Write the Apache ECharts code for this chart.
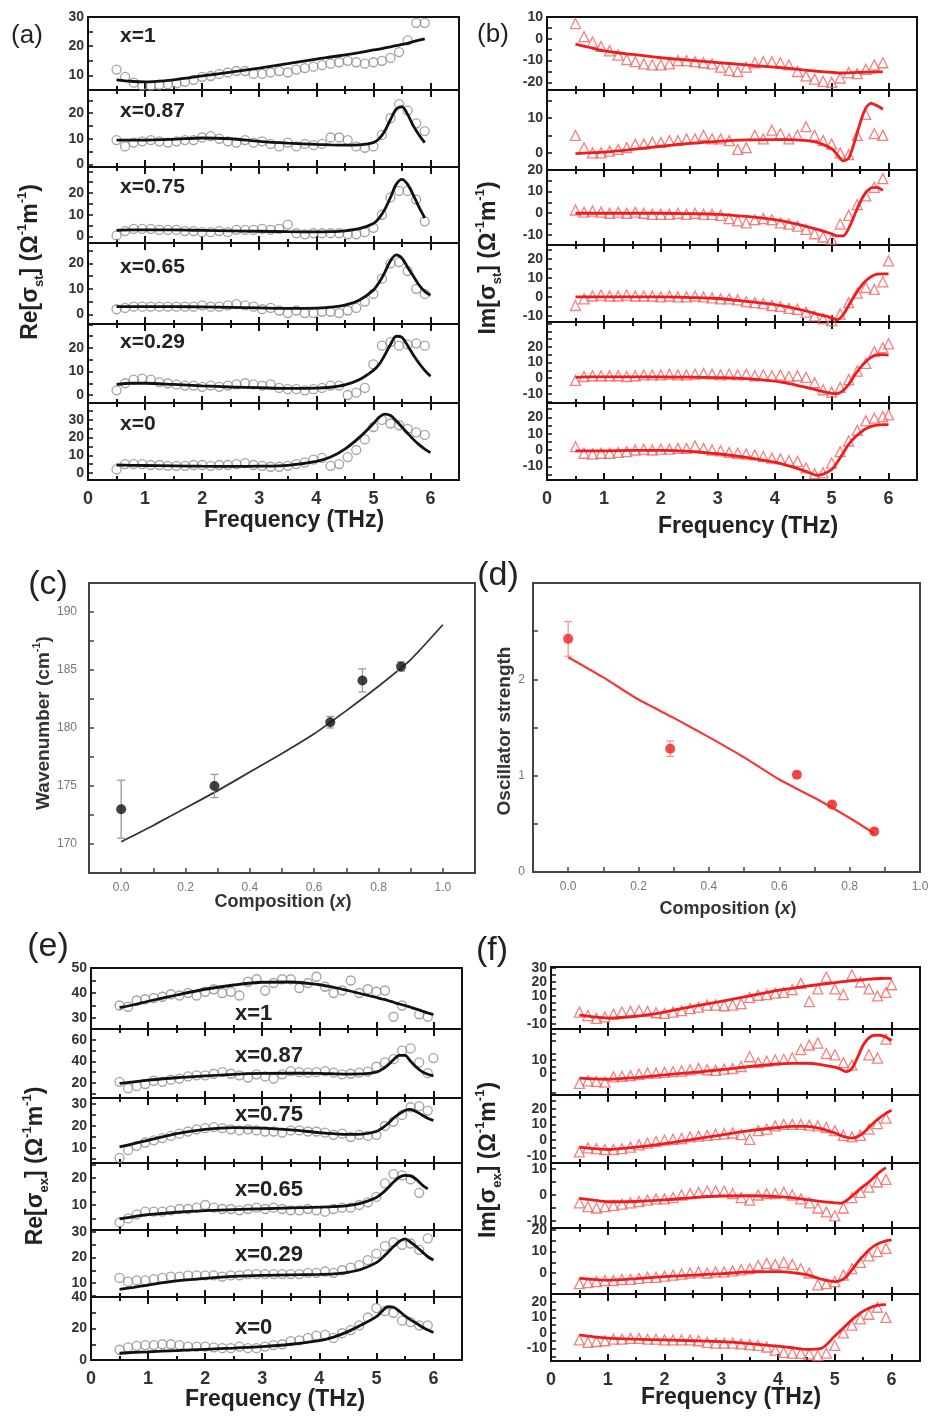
<!DOCTYPE html>
<html><head><meta charset="utf-8">
<script src="https://cdn.jsdelivr.net/npm/echarts@6/dist/echarts.min.js"></script>
<style>html,body{margin:0;padding:0;background:#fff}#c{width:934px;height:1418px}</style>
</head><body><div id="c"></div>
<script>
// ---------- shared frequency grids (THz) ----------
const freqMarkers = [0.5,0.65,0.8,0.95,1.1,1.25,1.4,1.55,1.7,1.85,2.0,2.15,2.3,2.45,2.6,2.75,2.9,3.05,3.2,3.35,3.5,3.65,3.8,3.95,4.1,4.25,4.4,4.55,4.7,4.85,5.0,5.15,5.3,5.45,5.6,5.75,5.9,6.0];
const freqFit = [0.5,0.75,1,1.5,2,2.5,3,3.5,4,4.25,4.5,4.75,5,5.1,5.2,5.3,5.4,5.5,5.6,5.7,5.8,5.9,6.0];
const freqTickLabels = [0,1,2,3,4,5,6];
const compLabels = ['x=1','x=0.87','x=0.75','x=0.65','x=0.29','x=0'];

// ---------- (a) Re[sigma_st] ----------
const aM1 = [12,9.5,7.5,6.5,6.5,6.8,7,7.3,7.8,8.5,9.5,9.8,10.5,11,11.5,11.5,10.5,10.5,11,11.5,11,12,12.5,13,13.5,14,14.5,15,14.5,14,14.5,15,16,18,22,28,28,null];
const aF1 = [8.5,8.0,7.8,8.5,9.8,11.1,12.5,14.0,15.6,16.3,17.0,17.8,18.7,19.0,19.4,19.8,20.2,20.6,21.0,21.6,22.1,22.5,null];
const aM2 = [9.5,7,8.5,9,9.5,9,8.5,9,9.5,9.5,10.5,11,10,9,8.5,9.5,8.5,9,8,7,8.5,7,8,7.5,8,10.5,10.5,9.5,7,6.5,7,11.5,18,23.5,21,16,13,null];
const aF2 = [9.5,9.5,9.5,9.8,10.3,10.0,9.0,8.3,7.8,7.6,7.5,7.6,8.5,10,13,17.5,21.5,22.5,19.5,15,11.5,8.5,null];
const aM3 = [0.5,2.5,3.5,3.5,3.5,3,3,3,2.5,2.5,2,2,2.5,2,3,3,3,3.5,3,3.5,5.5,1.5,1,1.5,1.5,1.5,1.5,1,1,2,4,10,18,21,21,17,7,null];
const aF3 = [2.8,3.0,3.0,3.0,2.8,2.6,2.4,2.2,2.1,2.2,2.6,3.6,6,8.5,12.5,18,24,26.3,24,19,13.5,8.5,null];
const aM4 = [2,2.5,3,3,3,3,3,3,3,3,3.5,3,3,3.5,4,3.5,3,2,2.5,1.5,0.5,1.5,0.5,0.5,1,1,0.5,1.5,2.5,5,8,14,20,20.5,17,10,8,null];
const aF4 = [3,3,3,3,2.9,2.7,2.5,2.3,2.4,2.8,3.6,5.5,9.5,12.5,16.5,21,23.3,22,18.5,15,11.5,9,7.5];
const aM5 = [2,5,6.5,7,6.5,5.5,5,4.5,4,4,3.5,4,3.5,4,4.5,5,4.5,4,4.5,3,2.5,2.5,2,2.5,3,4,4,0,1,3,13,21,22.5,21,21.5,22,21,null];
const aF5 = [4.5,5,5,4.5,3.9,3.4,3.1,2.8,2.9,3.3,4.3,6.5,10.5,13,17,21.5,25,24.5,21,17,13.5,10.5,8];
const aM6 = [2,5,5,5,4.5,4.5,4,4,4,4.5,4.5,4,4.5,4.5,5,5.5,4.5,4,3.5,3.5,4,5,6,7.5,8.5,4,5,9,13,19,26,30,28,27,25,23,21.5,null];
const aF6 = [4.5,4.3,4.2,4,3.8,3.7,3.8,4.3,6.5,9,13.5,20,28,31.5,33.3,32.5,29.5,26,22.5,19,16,13.5,11.5];
const aYRange = [[5,30],[-1,29],[-3,32],[-3.8,28],[-3.4,30.2],[-4,39.6]];
const aYLabels = [[10,20,30],[0,10,20],[0,10,20],[0,10,20],[0,10,20],[0,10,20,30]];
const aYTicks = [[5,10,15,20,25,30],[0,5,10,15,20,25],[0,5,10,15,20,25,30],[0,5,10,15,20,25],[0,5,10,15,20,25,30],[0,5,10,15,20,25,30,35]];

// ---------- (b) Im[sigma_st] ----------
const bM1 = [7,1,-1.5,-3.5,-5.5,-7.5,-9.5,-10.5,-11.5,-12,-12,-11.5,-10,-10,-10.5,-11,-11.5,-13,-14.5,-15,-13,-11,-10.5,-10.5,-11,-12,-15,-17,-18.5,-19.5,-20,-18,-15.5,-16,-14,-12,-11,null];
const bF1 = [-2.5,-4,-5.5,-7.2,-8.7,-9.8,-10.9,-12,-13,-13.6,-14.3,-14.9,-15.4,-15.6,-15.7,-15.6,-15.5,-15.4,-15.3,-15.3,-15.2,-15.2,null];
const bM2 = [5,1.5,0,0,0.5,1,1.5,2.5,2.5,3,3,3.5,3.5,4,4,5,4,4,3.5,1,1.5,5,4,6.5,5.5,4,5,7.5,5,3.5,2.5,0,-0.5,5,11,5.5,5,null];
const bF2 = [-0.2,0,0.2,1,1.9,2.7,3.3,3.7,3.8,3.8,3.6,3,1.2,-0.5,-2.3,-1.5,3,8.5,12.8,14.2,13.5,12.5,null];
const bM3 = [1.5,0.5,1,0.5,0,0.5,0,0.5,0,-0.5,-0.5,-0.5,0,-0.5,0,-0.5,-0.5,-1,-2.5,-3.5,-4.5,-3,-2.5,-3,-4.5,-5,-6,-7.5,-9.5,-11,-12,-5,-1,4,8,12,16,null];
const bF3 = [0,0,0,0,0,-0.2,-0.5,-1.5,-3,-4.2,-5.7,-7.5,-9.5,-10.5,-10.5,-7,-1,5,9.5,11.8,12,10.5,null];
const bM4 = [-4.5,-1,0.5,1,0.5,0.5,1,0.5,0.5,0.5,0,0.5,0,0,0.5,0,-0.5,-1,-1,-1.5,-2.5,-3,-3.5,-4.5,-5,-6,-6.5,-8,-10,-11.5,-12.5,-9,-3,2,5,4,8,19];
const bF4 = [0,0,0,0,0,-0.3,-0.8,-2.3,-4,-5.3,-7,-9,-11,-12,-9.5,-4.5,0.5,5,8.5,10.8,12,12.2,12.2];
const bM5 = [-1.5,1,1.5,1.5,1.5,1.5,1,1.5,2,2,2,2.5,2,2,2.5,3,2.5,2,2.5,2,2.5,1.5,2,1.5,2,1,1.5,0.5,-3,-7.5,-9,-6,-1,4.5,9.5,17,19.5,22];
const bF5 = [0.5,0.8,0.8,0.8,0.8,0.6,0.3,-0.3,-2,-3.5,-5.5,-7.8,-9.8,-10,-8,-4,1.5,6.5,10.5,13.5,15,15,14.8];
const bM6 = [2,-2,-2.5,-2,-2,-1.5,-1,0,0.5,0,0.5,0.5,1,1,2.5,1,0,-0.5,-1.5,-2,-2.5,-3,-4,-5,-5.5,-6.5,-7,-11,-14.5,-14,-8,-1,5.5,12,18,19.5,20.5,21.5];
const bF6 = [-0.5,-0.5,-0.5,-0.3,-0.3,-0.8,-2.3,-4.5,-7.5,-9.8,-12.5,-15.5,-12,-7.5,-2,3.5,7.5,10.5,13,14.5,15.3,15.5,15.5];
const bYRange = [[-23.5,10],[-4.9,18],[-14.7,20],[-13.2,27.4],[-16,36],[-18.4,28.8]];
const bYLabels = [[-20,-10,0,10],[0,10],[-10,0,10,20],[-10,0,10,20],[-10,0,10,20],[-10,0,10,20]];
const bYTicks = [[-20,-15,-10,-5,0,5,10],[0,5,10,15],[-10,-5,0,5,10,15,20],[-10,-5,0,5,10,15,20,25],[-15,-10,-5,0,5,10,15,20,25,30,35],[-15,-10,-5,0,5,10,15,20,25]];

// ---------- (c) wavenumber vs composition ----------
const cX = [0,0.29,0.65,0.75,0.87];
const cY = [173.0,175.0,180.5,184.1,185.3];
const cErr = [2.5,1.0,0.5,1.0,0.4];
const cFitX = [0,0.1,0.2,0.3,0.4,0.5,0.6,0.7,0.8,0.9,1.0];
const cFitY = [170.2,171.6,173.1,174.6,176.2,177.8,179.5,181.5,183.6,185.9,188.9];
const cYLabels = [170,175,180,185,190];
const cYTicks = [170,172.5,175,177.5,180,182.5,185,187.5,190];
const compXLabels = [0,0.2,0.4,0.6,0.8,1.0];
const compXTicks = [0,0.1,0.2,0.3,0.4,0.5,0.6,0.7,0.8,0.9,1.0];

// ---------- (d) oscillator strength ----------
const dX = [0,0.29,0.65,0.75,0.87];
const dY = [2.42,1.28,1.01,0.70,0.42];
const dErr = [0.18,0.08,0.03,0.03,0.03];
const dFitX = [0,0.1,0.2,0.3,0.4,0.5,0.6,0.7,0.8,0.87];
const dFitY = [2.23,2.02,1.79,1.60,1.40,1.19,0.96,0.77,0.56,0.40];
const dYLabels = [0,1,2];
const dYTicks = [0,0.5,1,1.5,2,2.5];

// ---------- (e) Re[sigma_ex] ----------
const eM1 = [35,34.5,37,37.5,38,38.5,39.5,39,40,39,40.5,41.5,40,40.5,39,44.5,45.5,41,44,45.5,45.5,42,44,46.5,42.5,40,41,45,40,41.5,40.5,41,30.5,35,null,31.5,30.5,null];
const eF1 = [34.2,35.3,36.7,39.2,41.5,43.2,44.3,44.4,43.3,42.3,41,39.6,38.2,37.6,37,36.3,35.6,35,34.3,33.6,32.8,32,31.4];
const eM2 = [21,15,17,19,22,21,23,24,26,27,27,28.5,30,28.5,27,25,28,26,24,28,31,30,29.5,30,31,29.5,28,28.5,29.5,30.5,35,39,42,50,52,39,29,43];
const eF2 = [19.5,21,22.5,24.8,26.5,28,28.8,29,28.8,28.5,28.2,28.3,30,32.5,36.5,41.5,45.5,45.5,40,34.5,30.5,28,26.5];
const eM3 = [5.5,9,11,12.5,13.5,14.5,15.5,16.5,17.5,18.5,19,19.5,19,18.5,18,18.5,18,17.5,17.5,17,18,18,17.5,17.5,17,16,16.5,15,16,15.5,16,20,22,25,28.5,29,27,null];
const eF3 = [10.5,12,13.5,16.5,18.5,19.3,19,18.2,17,16.5,16.2,16.3,17.5,19,21,23.5,25.5,27,27.5,26.5,25,23.5,22.5];
const eM4 = [3.5,5,6.5,7.5,7.5,7.5,8,8.5,8.5,9,10,9,8.5,8.5,8,8.5,9,8.5,9,8.5,8,8,8.5,8,7.5,8.5,9,9,10,11,13,18,21.5,21,19.5,14.5,null,null];
const eF4 = [4.8,5.7,6.4,7.3,7.9,8.3,8.6,8.9,9.2,9.4,9.8,10.8,12.8,14.3,16.3,18.5,20.3,21,20.8,19.5,17.5,16,null];
const eM5 = [12,10.5,11,11,11.5,12,12.5,12.5,13,13,13,13,12.5,13,13,13.5,13.5,13.5,13.5,13.5,13.5,13.5,14,14,14.5,14,15,16,17,19,21.5,24.5,26,25,25.5,23,27.5,null];
const eF5 = [7.5,8.3,9.2,10.8,11.8,12.6,13,13.2,13.4,13.6,14.2,15.5,18,19.8,22,24.3,26.3,27.3,26,24.3,22.3,20.3,19];
const eM6 = [6.5,8,9,9.5,9.5,10,10,9.5,8.5,8.5,8.5,8,7.5,7.5,8.5,7.5,7.5,8.5,9.5,10,12,12.5,14,15.5,16,14,17,19,22,27,33,31,30,25,24,22,22,null];
const eF6 = [4.3,4.8,5.2,6,6.8,7.6,8.5,10,12.3,14.5,18,22.5,27.5,31,33.8,33.5,31,28,25.5,23.3,21,19,17.5];
const eYRange = [[25.6,50],[6,70],[3.2,32.7],[0.7,25.6],[4.5,30.8],[0,40]];
const eYLabels = [[30,40,50],[20,40,60],[10,20,30],[10,20],[10,20,30],[0,20,40]];
const eYTicks = [[30,35,40,45,50],[10,20,30,40,50,60,70],[5,10,15,20,25,30],[5,10,15,20,25],[5,10,15,20,25,30],[0,10,20,30,40]];

// ---------- (f) Im[sigma_ex] ----------
const fM1 = [-1.5,-4,-6,-5,-3,-1.5,-1,-0.5,-1,-2,-2.5,-1.5,-0.5,1,2,3.5,3.5,3,3.5,4.5,9,10.5,11,12,12.5,14.5,19,6,15,23.5,15,11,25,20,15,10,12.5,18];
const fF1 = [-3.5,-5,-5.8,-4.5,-1.5,2.5,6.2,10,14,15.5,17,18.3,19.5,20,20.5,21,21.3,21.6,22,22.3,22.5,22.6,22.6];
const fM2 = [-8,-6,-6.5,-7,-3,-2.5,-2,-1,0,0,0.5,1,1.5,2.5,3.5,2.5,2,3,3.5,5,12.5,8,9,10,10.5,11.5,18,21.5,23,15,14,8,6,null,14,11.5,26,null];
const fF2 = [-4,-4.5,-4.8,-3.5,-1.5,0.5,2.5,5,7,7.4,7.5,6.5,4.5,3,1,3.5,12,21.5,27,29,29,27.5,25];
const fM3 = [-7.5,-5,-5.5,-6,-6,-5.5,-4.5,-3,-2,-1,0,0.5,1,2,2.5,3,3.5,4,4.5,3.5,0.5,6,7,9,10,10,10,9.5,9,8,6,3,2,3,7,10.5,14,null];
const fF3 = [-4.5,-5.5,-6,-4.5,-2.3,0.5,3.2,6,8,8.7,8.7,7.3,4.5,3,1.8,1.3,2.2,4.5,8,11.5,14.5,17,19];
const fM4 = [-3,-4.5,-5,-4.5,-4,-3.5,-3,-2.5,-2,-1.5,-1.5,-1,0,0.5,1,1.5,1.5,1.5,0.5,-1,-2,0,0.5,0.5,1,0,-1.5,-3,-5,-6.5,-8,-5,-1,1,3,5,6,null];
const fF4 = [-1.3,-2,-2.6,-2.5,-1.9,-1,-0.4,-0.3,-0.6,-1,-1.8,-2.5,-3,-3.2,-2.2,-0.5,1.5,3.3,5,7,9,10.5,null];
const fM5 = [-5,-4.5,-4,-3.5,-3.5,-3,-3,-2.5,-2,-2,-1.5,-1,-0.5,0,0.5,0,0.5,0.5,1,1.5,2,3.5,4.5,4,5,4,2,0,-5.5,-5,-4,-1,2,5,8,10,11.5,null];
const fF5 = [-2.5,-3,-3.3,-2.6,-1.7,-1,-0.3,0.5,0.6,0.2,-0.8,-2.8,-4,-3.5,-1.8,1.5,5,8,10.7,12.8,14.1,15,15.5];
const fM6 = [-4.5,-6,-5.5,-5,-4,-4,-3.5,-3.5,-4,-4,-4.5,-4.5,-4.5,-4.5,-5,-6,-6.5,-6.5,-6.5,-7,-7.5,-8,-9,-11,-12.5,-13,-13,-13.5,-14.5,-13,-8,0,5,9,12,16.5,10,null];
const fF6 = [-1.3,-2.5,-3.3,-4,-4.5,-5,-5.6,-6.8,-8.5,-9.5,-10.5,-10,-2,1.5,5,8.5,11.5,14,15.9,17.2,18,18.2,null];
const fYRange = [[-13.6,30.7],[-16.9,33.8],[-14.6,28.7],[-12.7,12.3],[-9.8,21],[-18,25]];
const fYLabels = [[-10,0,10,20,30],[-10,0,10,20],[-10,0,10,20],[-10,0,10],[0,10,20],[-10,0,10,20]];
const fYTicks = [[-10,-5,0,5,10,15,20,25,30],[-15,-10,-5,0,5,10,15,20,25,30],[-10,-5,0,5,10,15,20,25],[-10,-5,0,5,10],[-5,0,5,10,15,20],[-15,-10,-5,0,5,10,15,20]];

// ---------- build ----------
const FONT = '"Liberation Sans", Arial, sans-serif';
const BLACK = '#111';
const RED = '#ee1c1c';
const grid = [], xAxis = [], yAxis = [], series = [], graphic = [];

function freqAxis(gi, pos, showLabel) {
  return {
    type: 'value', gridIndex: gi, position: pos, min: 0, max: 6.5, interval: 1,
    axisLine: { show: false, onZero: false }, splitLine: { show: false },
    axisTick: { show: true, inside: true, length: 7, lineStyle: { color: BLACK, width: 2 } },
    minorTick: { show: true, splitNumber: 2, length: 4, lineStyle: { color: BLACK, width: 2 } },
    axisLabel: { show: showLabel, margin: 10, fontSize: 18, fontWeight: 'bold', color: '#333', fontFamily: FONT,
      formatter: v => (freqTickLabels.indexOf(v) >= 0 ? String(v) : '') }
  };
}

function stack(p) {
  for (let k = 0; k < 6; k++) {
    const gi = grid.length;
    grid.push({ left: p.left, top: p.bounds[k], width: p.width, height: p.bounds[k + 1] - p.bounds[k],
      show: true, borderColor: BLACK, borderWidth: 2, backgroundColor: 'rgba(0,0,0,0)' });
    const xi = xAxis.length;
    xAxis.push(freqAxis(gi, 'bottom', k === 5));
    if (k > 0) xAxis.push(freqAxis(gi, 'top', false));
    const yi = yAxis.length;
    yAxis.push({ type: 'value', gridIndex: gi, position: 'left', min: p.yr[k][0], max: p.yr[k][1],
      axisLine: { show: false, onZero: false }, splitLine: { show: false },
      axisTick: { show: true, inside: true, length: 5, customValues: p.yt[k], lineStyle: { color: BLACK, width: 1.5 } },
      axisLabel: { show: true, customValues: p.yl[k], margin: 4, fontSize: 14, fontWeight: 'bold', color: '#333', fontFamily: FONT } });
    series.push({ type: 'scatter', xAxisIndex: xi, yAxisIndex: yi, symbol: p.symbol, symbolSize: p.size,
      itemStyle: { color: 'rgba(0,0,0,0)', borderColor: p.markColor, borderWidth: 1.3 },
      data: freqMarkers.map((f, i) => [f, p.marks[k][i]]).filter(d => d[1] != null), z: 2, silent: true });
    series.push({ type: 'line', xAxisIndex: xi, yAxisIndex: yi, symbol: 'none', smooth: 0.3,
      lineStyle: { color: p.lineColor, width: 2.8 },
      data: freqFit.map((f, i) => [f, p.fits[k][i]]).filter(d => d[1] != null), z: 3, silent: true });
  }
}

stack({ left: 88, width: 371, bounds: [17,90,167,243,324,403,480], yr: aYRange, yl: aYLabels, yt: aYTicks,
  marks: [aM1,aM2,aM3,aM4,aM5,aM6], fits: [aF1,aF2,aF3,aF4,aF5,aF6], symbol: 'circle', size: 9, markColor: '#8c8c8c', lineColor: BLACK });
stack({ left: 547, width: 370, bounds: [17,90,170,245,322,403,480], yr: bYRange, yl: bYLabels, yt: bYTicks,
  marks: [bM1,bM2,bM3,bM4,bM5,bM6], fits: [bF1,bF2,bF3,bF4,bF5,bF6], symbol: 'triangle', size: 10, markColor: '#f26060', lineColor: RED });
stack({ left: 91, width: 371, bounds: [968,1029,1098,1163,1230,1297,1360], yr: eYRange, yl: eYLabels, yt: eYTicks,
  marks: [eM1,eM2,eM3,eM4,eM5,eM6], fits: [eF1,eF2,eF3,eF4,eF5,eF6], symbol: 'circle', size: 9, markColor: '#8c8c8c', lineColor: BLACK });
stack({ left: 551, width: 369, bounds: [967,1029,1095,1163,1228,1294,1361], yr: fYRange, yl: fYLabels, yt: fYTicks,
  marks: [fM1,fM2,fM3,fM4,fM5,fM6], fits: [fF1,fF2,fF3,fF4,fF5,fF6], symbol: 'triangle', size: 10, markColor: '#f26060', lineColor: RED });

function compPanel(p) {
  const gi = grid.length;
  grid.push({ left: p.left, top: p.top, width: p.width, height: p.height, show: true, borderColor: '#444', borderWidth: 2, backgroundColor: 'rgba(0,0,0,0)' });
  const xi = xAxis.length;
  xAxis.push({ type: 'value', gridIndex: gi, position: 'bottom', min: p.xr[0], max: p.xr[1], axisLine: { show: false, onZero: false }, splitLine: { show: false },
    axisTick: { show: true, inside: true, length: 5, customValues: compXTicks, lineStyle: { color: '#444', width: 1.5 } },
    axisLabel: { show: true, customValues: compXLabels, margin: 9, fontSize: 12, color: '#777', fontFamily: FONT, formatter: v => v.toFixed(1) } });
  const yi = yAxis.length;
  yAxis.push({ type: 'value', gridIndex: gi, position: 'left', min: p.yr[0], max: p.yr[1], axisLine: { show: false, onZero: false }, splitLine: { show: false },
    axisTick: { show: true, inside: true, length: 5, customValues: p.yt, lineStyle: { color: '#444', width: 1.5 } },
    axisLabel: { show: true, customValues: p.yl, margin: p.ym, fontSize: 12, color: '#777', fontFamily: FONT } });
  series.push({ type: 'line', xAxisIndex: xi, yAxisIndex: yi, symbol: 'none', smooth: 0.2, lineStyle: { color: p.lineColor, width: p.lw },
    data: p.fx.map((x, i) => [x, p.fy[i]]), z: 2, silent: true });
  series.push({ type: 'custom', xAxisIndex: xi, yAxisIndex: yi, z: 3, silent: true,
    data: p.x.map((x, i) => [x, p.y[i] - p.e[i], p.y[i] + p.e[i]]),
    encode: { x: 0, y: [1, 2] },
    renderItem: (params, api) => {
      const lo = api.coord([api.value(0), api.value(1)]);
      const hi = api.coord([api.value(0), api.value(2)]);
      const w = 4, st = { stroke: p.errColor, lineWidth: 1.3 };
      return { type: 'group', children: [
        { type: 'line', shape: { x1: lo[0], y1: lo[1], x2: hi[0], y2: hi[1] }, style: st },
        { type: 'line', shape: { x1: hi[0] - w, y1: hi[1], x2: hi[0] + w, y2: hi[1] }, style: st },
        { type: 'line', shape: { x1: lo[0] - w, y1: lo[1], x2: lo[0] + w, y2: lo[1] }, style: st }
      ] };
    } });
  series.push({ type: 'scatter', xAxisIndex: xi, yAxisIndex: yi, symbol: 'circle', symbolSize: 10, z: 4, silent: true,
    itemStyle: { color: p.ptColor }, data: p.x.map((x, i) => [x, p.y[i]]) });
}
compPanel({ left: 89, top: 583, width: 386, height: 290, xr: [-0.1, 1.1], yr: [167.5, 192.5], yl: cYLabels, yt: cYTicks, ym: 12,
  x: cX, y: cY, e: cErr, fx: cFitX, fy: cFitY, lineColor: '#333', lw: 1.8, errColor: '#9a9a9a', ptColor: '#111' });
compPanel({ left: 533, top: 583, width: 387, height: 289, xr: [-0.1, 1.0], yr: [0, 3], yl: dYLabels, yt: dYTicks, ym: 8,
  x: dX, y: dY, e: dErr, fx: dFitX, fy: dFitY, lineColor: '#f03a3a', lw: 2.2, errColor: '#f39a9a', ptColor: '#ee2020' });

// ---------- texts ----------
function txt(x, y, text, size, opts) {
  opts = opts || {};
  graphic.push({ type: 'text', x: x, y: y, rotation: opts.rot || 0, silent: true, z: 100,
    style: { text: text, fill: opts.color || '#222', font: (opts.weight || 'bold') + ' ' + size + 'px ' + FONT,
      align: opts.align || 'center', verticalAlign: 'middle', textAlign: opts.align || 'center', textVerticalAlign: 'middle',
      rich: opts.rich } });
}
const richAxis = {
  b: { fontSize: 23, fontWeight: 'bold', fontFamily: FONT, fill: '#222', color: '#222', lineHeight: 30, verticalAlign: 'middle' },
  s: { fontSize: 13, fontWeight: 'bold', fontFamily: FONT, fill: '#222', color: '#222', verticalAlign: 'bottom' },
  p: { fontSize: 13, fontWeight: 'bold', fontFamily: FONT, fill: '#222', color: '#222', verticalAlign: 'top' },
  i: { fontSize: 18, fontWeight: 'bold', fontStyle: 'italic', fontFamily: FONT, fill: '#333', color: '#333' },
  c: { fontSize: 18, fontWeight: 'bold', fontFamily: FONT, fill: '#333', color: '#333', lineHeight: 24, verticalAlign: 'middle' },
  w: { fontSize: 19, fontWeight: 'bold', fontFamily: FONT, fill: '#333', color: '#333', lineHeight: 26, verticalAlign: 'middle' },
  cp: { fontSize: 11, fontWeight: 'bold', fontFamily: FONT, fill: '#333', color: '#333', verticalAlign: 'top' }
};
// panel labels
txt(27, 36, '(a)', 26, { weight: 'normal' });
txt(493, 35, '(b)', 26, { weight: 'normal' });
txt(48, 585, '(c)', 34, { weight: 'normal' });
txt(498, 576, '(d)', 34, { weight: 'normal' });
txt(48, 947, '(e)', 34, { weight: 'normal' });
txt(492, 951, '(f)', 34, { weight: 'normal' });
// composition labels
const aLabY = [36, 111, 187, 267, 342, 424];
const eLabY = [1014, 1056, 1115, 1190, 1255, 1328];
compLabels.forEach((s, i) => { txt(120, aLabY[i], s, 21, { align: 'left' }); txt(235, eLabY[i], s, 22, { align: 'left' }); });
// x titles
txt(294, 521, 'Frequency (THz)', 23);
txt(748, 527, 'Frequency (THz)', 23);
txt(275, 1400, 'Frequency (THz)', 23);
txt(731, 1398, 'Frequency (THz)', 23);
txt(283, 902, '{c|Composition (}{i|x}{c|)}', 18, { rich: richAxis });
txt(728, 909, '{c|Composition (}{i|x}{c|)}', 18, { rich: richAxis });
// y titles
const R = Math.PI / 2;
txt(31, 262, '{b|Re[σ}{s|st}{b|] (Ω}{p|-1}{b|m}{p|-1}{b|)}', 23, { rot: R, rich: richAxis });
txt(489, 258, '{b|Im[σ}{s|st}{b|] (Ω}{p|-1}{b|m}{p|-1}{b|)}', 23, { rot: R, rich: richAxis });
txt(36, 1166, '{b|Re[σ}{s|ex}{b|] (Ω}{p|-1}{b|m}{p|-1}{b|)}', 23, { rot: R, rich: richAxis });
txt(489, 1160, '{b|Im[σ}{s|ex}{b|] (Ω}{p|-1}{b|m}{p|-1}{b|)}', 23, { rot: R, rich: richAxis });
txt(44, 723, '{w|Wavenumber (cm}{cp|-1}{w|)}', 19, { rot: R, rich: richAxis });
txt(505, 731, 'Oscillator strength', 19, { rot: R, color: '#333' });

const chart = echarts.init(document.getElementById('c'), null, { renderer: 'canvas', width: 934, height: 1418 });
chart.setOption({ animation: false, backgroundColor: '#fff', grid, xAxis, yAxis, series, graphic });
</script></body></html>
